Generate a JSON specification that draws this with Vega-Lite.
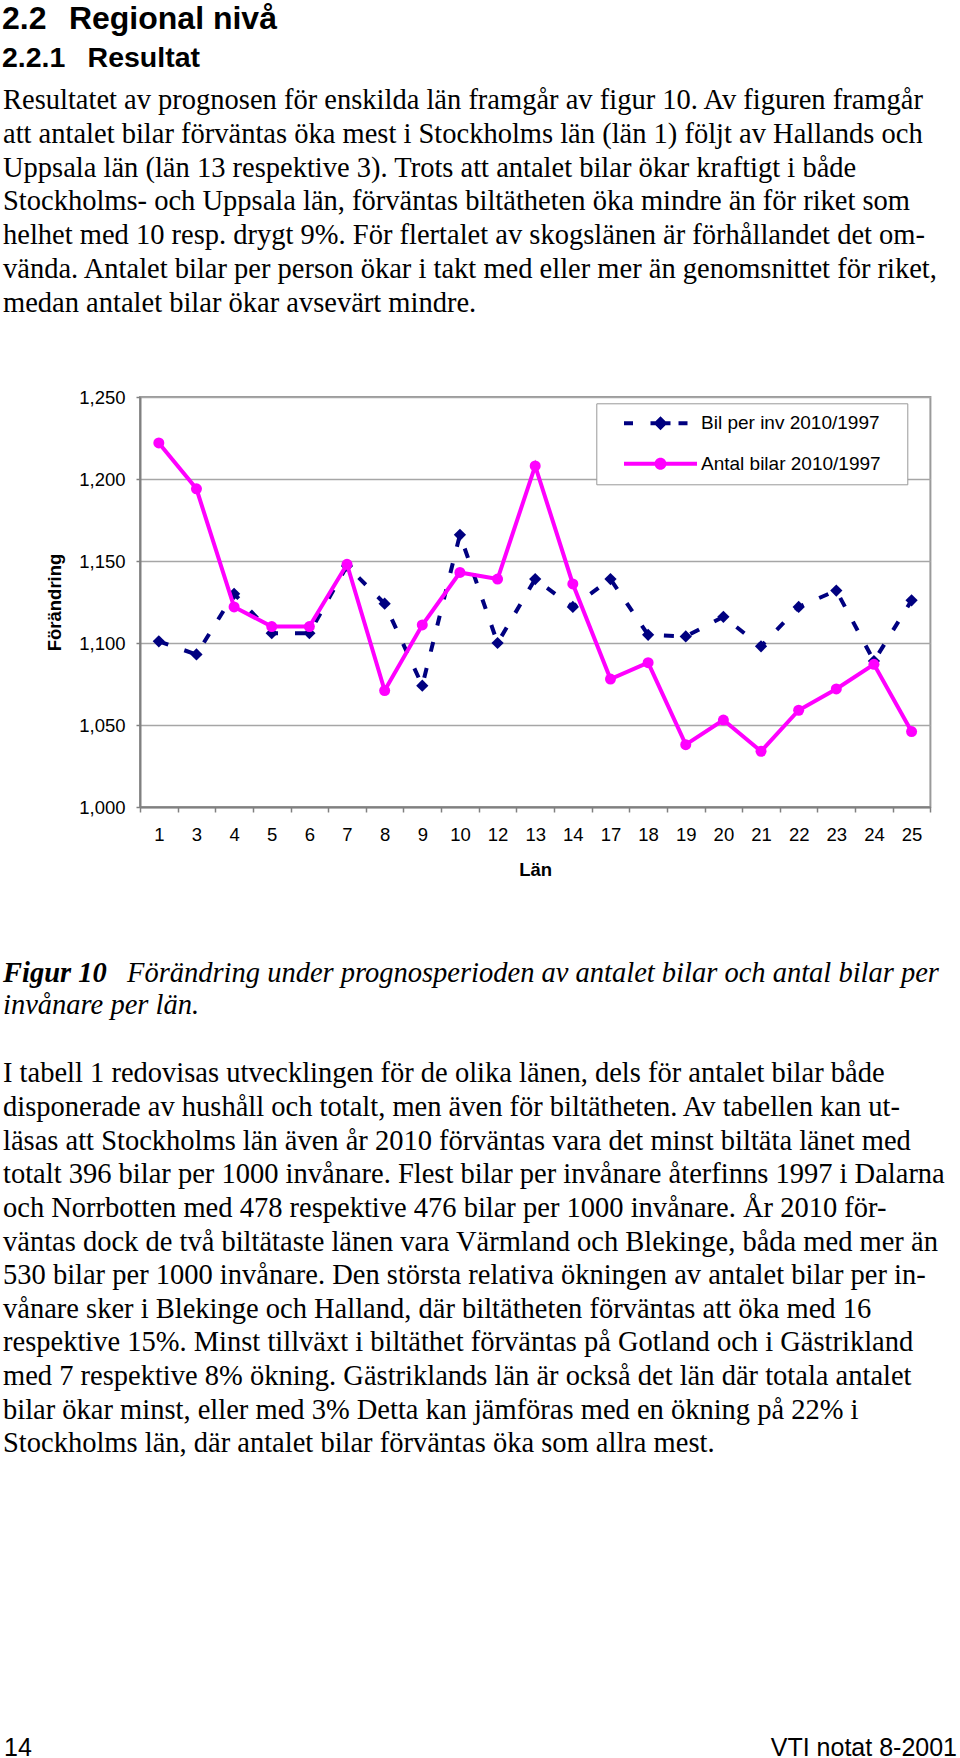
{
  "$schema": "https://vega.github.io/schema/vega-lite/v6.json",
  "padding": 0,
  "background": "white",
  "spacing": 0,
  "config": {"view": {"stroke": null}},
  "datasets": {
    "header": [
      {"line": 0, "kind": "h1", "text": "2.2\u2002\u2009Regional nivå"},
      {"line": 1, "kind": "h2", "text": "2.2.1\u2002\u00a0Resultat"}
    ],
    "body1": [
      {"line": 0, "text": "Resultatet av prognosen för enskilda län framgår av figur 10. Av figuren framgår"},
      {"line": 1, "text": "att antalet bilar förväntas öka mest i Stockholms län (län 1) följt av Hallands och"},
      {"line": 2, "text": "Uppsala län (län 13 respektive 3). Trots att antalet bilar ökar kraftigt i både"},
      {"line": 3, "text": "Stockholms- och Uppsala län, förväntas biltätheten öka mindre än för riket som"},
      {"line": 4, "text": "helhet med 10 resp. drygt 9%. För flertalet av skogslänen är förhållandet det om-"},
      {"line": 5, "text": "vända. Antalet bilar per person ökar i takt med eller mer än genomsnittet för riket,"},
      {"line": 6, "text": "medan antalet bilar ökar avsevärt mindre."}
    ],
    "lan": [
      {"lan": "1", "serie": "Bil per inv 2010/1997", "value": 1.101},
      {"lan": "3", "serie": "Bil per inv 2010/1997", "value": 1.093},
      {"lan": "4", "serie": "Bil per inv 2010/1997", "value": 1.130},
      {"lan": "5", "serie": "Bil per inv 2010/1997", "value": 1.106},
      {"lan": "6", "serie": "Bil per inv 2010/1997", "value": 1.106},
      {"lan": "7", "serie": "Bil per inv 2010/1997", "value": 1.147},
      {"lan": "8", "serie": "Bil per inv 2010/1997", "value": 1.124},
      {"lan": "9", "serie": "Bil per inv 2010/1997", "value": 1.074},
      {"lan": "10", "serie": "Bil per inv 2010/1997", "value": 1.166},
      {"lan": "12", "serie": "Bil per inv 2010/1997", "value": 1.100},
      {"lan": "13", "serie": "Bil per inv 2010/1997", "value": 1.139},
      {"lan": "14", "serie": "Bil per inv 2010/1997", "value": 1.122},
      {"lan": "17", "serie": "Bil per inv 2010/1997", "value": 1.139},
      {"lan": "18", "serie": "Bil per inv 2010/1997", "value": 1.105},
      {"lan": "19", "serie": "Bil per inv 2010/1997", "value": 1.104},
      {"lan": "20", "serie": "Bil per inv 2010/1997", "value": 1.116},
      {"lan": "21", "serie": "Bil per inv 2010/1997", "value": 1.098},
      {"lan": "22", "serie": "Bil per inv 2010/1997", "value": 1.122},
      {"lan": "23", "serie": "Bil per inv 2010/1997", "value": 1.132},
      {"lan": "24", "serie": "Bil per inv 2010/1997", "value": 1.089},
      {"lan": "25", "serie": "Bil per inv 2010/1997", "value": 1.126},
      {"lan": "1", "serie": "Antal bilar 2010/1997", "value": 1.222},
      {"lan": "3", "serie": "Antal bilar 2010/1997", "value": 1.194},
      {"lan": "4", "serie": "Antal bilar 2010/1997", "value": 1.122},
      {"lan": "5", "serie": "Antal bilar 2010/1997", "value": 1.110},
      {"lan": "6", "serie": "Antal bilar 2010/1997", "value": 1.110},
      {"lan": "7", "serie": "Antal bilar 2010/1997", "value": 1.148},
      {"lan": "8", "serie": "Antal bilar 2010/1997", "value": 1.071},
      {"lan": "9", "serie": "Antal bilar 2010/1997", "value": 1.111},
      {"lan": "10", "serie": "Antal bilar 2010/1997", "value": 1.143},
      {"lan": "12", "serie": "Antal bilar 2010/1997", "value": 1.139},
      {"lan": "13", "serie": "Antal bilar 2010/1997", "value": 1.208},
      {"lan": "14", "serie": "Antal bilar 2010/1997", "value": 1.136},
      {"lan": "17", "serie": "Antal bilar 2010/1997", "value": 1.078},
      {"lan": "18", "serie": "Antal bilar 2010/1997", "value": 1.088},
      {"lan": "19", "serie": "Antal bilar 2010/1997", "value": 1.038},
      {"lan": "20", "serie": "Antal bilar 2010/1997", "value": 1.053},
      {"lan": "21", "serie": "Antal bilar 2010/1997", "value": 1.034},
      {"lan": "22", "serie": "Antal bilar 2010/1997", "value": 1.059},
      {"lan": "23", "serie": "Antal bilar 2010/1997", "value": 1.072},
      {"lan": "24", "serie": "Antal bilar 2010/1997", "value": 1.087},
      {"lan": "25", "serie": "Antal bilar 2010/1997", "value": 1.046}
    ],
    "caption": [
      {"line": 0, "part": "label", "text": "Figur 10"},
      {"line": 0, "part": "cont", "text": "Förändring under prognosperioden av antalet bilar och antal bilar per"},
      {"line": 1, "part": "body", "text": "invånare per län."}
    ],
    "para2": [
      {"line": 0, "text": "I tabell 1 redovisas utvecklingen för de olika länen, dels för antalet bilar både"},
      {"line": 1, "text": "disponerade av hushåll och totalt, men även för biltätheten. Av tabellen kan ut-"},
      {"line": 2, "text": "läsas att Stockholms län även år 2010 förväntas vara det minst biltäta länet med"},
      {"line": 3, "text": "totalt 396 bilar per 1000 invånare. Flest bilar per invånare återfinns 1997 i Dalarna"},
      {"line": 4, "text": "och Norrbotten med 478 respektive 476 bilar per 1000 invånare. År 2010 för-"},
      {"line": 5, "text": "väntas dock de två biltätaste länen vara Värmland och Blekinge, båda med mer än"},
      {"line": 6, "text": "530 bilar per 1000 invånare. Den största relativa ökningen av antalet bilar per in-"},
      {"line": 7, "text": "vånare sker i Blekinge och Halland, där biltätheten förväntas att öka med 16"},
      {"line": 8, "text": "respektive 15%. Minst tillväxt i biltäthet förväntas på Gotland och i Gästrikland"},
      {"line": 9, "text": "med 7 respektive 8% ökning. Gästriklands län är också det län där totala antalet"},
      {"line": 10, "text": "bilar ökar minst, eller med 3% Detta kan jämföras med en ökning på 22% i"},
      {"line": 11, "text": "Stockholms län, där antalet bilar förväntas öka som allra mest."}
    ],
    "footer": [
      {"line": 0, "side": "left", "text": "14"},
      {"line": 0, "side": "right", "text": "VTI notat 8-2001"}
    ]
  },
  "vconcat": [
    {
      "width": 960,
      "height": 77.3,
      "data": {"name": "header"},
      "encoding": {
        "x": {"datum": 0, "type": "quantitative", "scale": {"domain": [0, 1], "nice": false}, "axis": null},
        "y": {"field": "line", "type": "quantitative", "scale": {"domain": [-0.74026, 1.26753], "reverse": true, "nice": false, "zero": false}, "axis": null},
        "text": {"field": "text"}
      },
      "layer": [
        {"transform": [{"filter": "datum.kind === 'h1'"}], "mark": {"type": "text", "align": "left", "baseline": "alphabetic", "font": "Liberation Sans", "fontSize": 32, "fontWeight": "bold", "color": "black", "dx": 2}},
        {"transform": [{"filter": "datum.kind === 'h2'"}], "mark": {"type": "text", "align": "left", "baseline": "alphabetic", "font": "Liberation Sans", "fontSize": 28.5, "fontWeight": "bold", "color": "black", "dx": 2}}
      ]
    },
    {
      "width": 960,
      "height": 308.7,
      "data": {"name": "body1"},
      "mark": {"type": "text", "align": "left", "baseline": "alphabetic", "font": "Liberation Serif", "fontSize": 28.5, "color": "black", "dx": 3},
      "encoding": {
        "x": {"datum": 0, "type": "quantitative", "scale": {"domain": [0, 1], "nice": false}, "axis": null},
        "y": {"field": "line", "type": "quantitative", "scale": {"domain": [-0.91716, 8.21598], "reverse": true, "nice": false, "zero": false}, "axis": null},
        "text": {"field": "text"}
      }
    },
    {
      "spacing": 0,
      "bounds": "flush",
      "hconcat": [
        {
          "width": 139.3,
          "height": 410,
          "data": {"values": []},
          "mark": {"type": "text"}
        },
        {
          "width": 790.4,
          "height": 410,
          "view": {"stroke": "#9a9a9a", "strokeWidth": 2},
          "data": {"name": "lan"},
          "encoding": {
            "x": {
              "field": "lan", "type": "ordinal", "bandPosition": 0.5,
              "scale": {"type": "band", "domain": ["1","3","4","5","6","7","8","9","10","12","13","14","17","18","19","20","21","22","23","24","25"], "paddingInner": 0, "paddingOuter": 0},
              "axis": {
                "title": "Län", "titleFont": "Liberation Sans", "titleFontSize": 18.5, "titleFontWeight": "bold", "titleColor": "black", "titlePadding": 17,
                "labelAngle": 0, "labelFont": "Liberation Sans", "labelFontSize": 18.5, "labelColor": "black", "labelPadding": 13, "labelOverlap": false,
                "tickBand": "extent", "tickSize": 5, "tickColor": "#808080", "tickWidth": 1.5,
                "domainColor": "#808080", "domainWidth": 2, "grid": false
              }
            },
            "y": {
              "field": "value", "type": "quantitative",
              "scale": {"domain": [1, 1.25], "nice": false, "zero": false},
              "axis": {
                "title": "Förändring", "titleFont": "Liberation Sans", "titleFontSize": 18.5, "titleFontWeight": "bold", "titleColor": "black", "titlePadding": 14,
                "values": [1, 1.05, 1.1, 1.15, 1.2, 1.25],
                "labelExpr": "replace(format(datum.value, '.3f'), '.', ',')",
                "labelFont": "Liberation Sans", "labelFontSize": 18.5, "labelColor": "black", "labelPadding": 11, "labelOverlap": false,
                "tickSize": 4, "tickColor": "#808080", "tickWidth": 1.5,
                "domainColor": "#808080", "domainWidth": 2,
                "grid": true, "gridColor": "#a6a6a6", "gridWidth": 1.5
              }
            }
          },
          "layer": [
            {
              "transform": [{"filter": "datum.serie === 'Bil per inv 2010/1997'"}],
              "mark": {"type": "line", "strokeWidth": 4, "strokeDash": [10, 17], "strokeCap": "butt"},
              "encoding": {
                "color": {
                  "field": "serie", "type": "nominal",
                  "scale": {"domain": ["Bil per inv 2010/1997", "Antal bilar 2010/1997"], "range": ["#000080", "#ff00ff"]},
                  "legend": {
                    "orient": "none", "legendX": 596.3, "legendY": 403.3, "title": null, "direction": "vertical",
                    "padding": 10.5, "strokeColor": "#999999", "fillColor": "white",
                    "labelFont": "Liberation Sans", "labelFontSize": 19, "labelColor": "black", "labelLimit": 400,
                    "labelExpr": "datum.label + '\u00a0\u00a0\u00a0\u200b'",
                    "symbolSize": 100, "symbolStrokeWidth": 0, "symbolOffset": 44.2, "labelOffset": 31, "rowPadding": 20.4,
                    "encode": {
                      "symbols": {
                        "update": {
                          "shape": {"signal": "datum.value === 'Bil per inv 2010/1997' ? 'M-7.3,-0.4H-5.5V0.4H-7.3Z M-2,-0.4H2V0.4H-2Z M3.6,-0.4H5.4V0.4H3.6Z M0,-1.4L1.4,0L0,1.4L-1.4,0Z' : 'M-7.3,-0.4H7.3V0.4H-7.3Z M1.2,0A1.2,1.2,0,1,1,-1.2,0A1.2,1.2,0,1,1,1.2,0Z'"},
                          "fill": {"signal": "datum.value === 'Bil per inv 2010/1997' ? '#000080' : '#ff00ff'"},
                          "stroke": {"value": "transparent"},
                          "strokeWidth": {"value": 0},
                          "opacity": {"value": 1}
                        }
                      }
                    }
                  }
                }
              }
            },
            {
              "transform": [{"filter": "datum.serie === 'Bil per inv 2010/1997'"}],
              "mark": {"type": "point", "shape": "diamond", "filled": true, "size": 150, "color": "#000080", "opacity": 1}
            },
            {
              "transform": [{"filter": "datum.serie === 'Antal bilar 2010/1997'"}],
              "mark": {"type": "line", "strokeWidth": 4},
              "encoding": {
                "color": {
                  "field": "serie", "type": "nominal",
                  "scale": {"domain": ["Bil per inv 2010/1997", "Antal bilar 2010/1997"], "range": ["#000080", "#ff00ff"]}
                }
              }
            },
            {
              "transform": [{"filter": "datum.serie === 'Antal bilar 2010/1997'"}],
              "mark": {"type": "point", "shape": "circle", "filled": true, "size": 121, "color": "#ff00ff", "opacity": 1}
            }
          ]
        }
      ]
    },
    {
      "width": 960,
      "height": 163,
      "data": {"name": "caption"},
      "encoding": {
        "x": {"datum": 0, "type": "quantitative", "scale": {"domain": [0, 1], "nice": false}, "axis": null},
        "y": {"field": "line", "type": "quantitative", "scale": {"domain": [-3.1875, 1.90625], "reverse": true, "nice": false, "zero": false}, "axis": null},
        "text": {"field": "text"}
      },
      "layer": [
        {"transform": [{"filter": "datum.part === 'label'"}], "mark": {"type": "text", "align": "left", "baseline": "alphabetic", "font": "Liberation Serif", "fontSize": 28.5, "fontStyle": "italic", "fontWeight": "bold", "color": "black", "dx": 3}},
        {"transform": [{"filter": "datum.part === 'cont'"}], "mark": {"type": "text", "align": "left", "baseline": "alphabetic", "font": "Liberation Serif", "fontSize": 28.5, "fontStyle": "italic", "color": "black", "dx": 127}},
        {"transform": [{"filter": "datum.part === 'body'"}], "mark": {"type": "text", "align": "left", "baseline": "alphabetic", "font": "Liberation Serif", "fontSize": 28.5, "fontStyle": "italic", "color": "black", "dx": 3}}
      ]
    },
    {
      "width": 960,
      "height": 680,
      "data": {"name": "para2"},
      "mark": {"type": "text", "align": "left", "baseline": "alphabetic", "font": "Liberation Serif", "fontSize": 28.5, "color": "black", "dx": 3},
      "encoding": {
        "x": {"datum": 0, "type": "quantitative", "scale": {"domain": [0, 1], "nice": false}, "axis": null},
        "y": {"field": "line", "type": "quantitative", "scale": {"domain": [-1.1679, 19.04012], "reverse": true, "nice": false, "zero": false}, "axis": null},
        "text": {"field": "text"}
      }
    },
    {
      "width": 960,
      "height": 38,
      "data": {"name": "footer"},
      "encoding": {
        "y": {"field": "line", "type": "quantitative", "scale": {"domain": [-33, 5], "reverse": true, "nice": false, "zero": false}, "axis": null},
        "text": {"field": "text"}
      },
      "layer": [
        {
          "transform": [{"filter": "datum.side === 'left'"}],
          "mark": {"type": "text", "align": "left", "baseline": "alphabetic", "font": "Liberation Sans", "fontSize": 25, "color": "black", "dx": 4},
          "encoding": {"x": {"datum": 0, "type": "quantitative", "scale": {"domain": [0, 1], "nice": false}, "axis": null}}
        },
        {
          "transform": [{"filter": "datum.side === 'right'"}],
          "mark": {"type": "text", "align": "right", "baseline": "alphabetic", "font": "Liberation Sans", "fontSize": 25, "color": "black", "dx": -3},
          "encoding": {"x": {"datum": 1, "type": "quantitative", "scale": {"domain": [0, 1], "nice": false}, "axis": null}}
        }
      ]
    }
  ]
}
